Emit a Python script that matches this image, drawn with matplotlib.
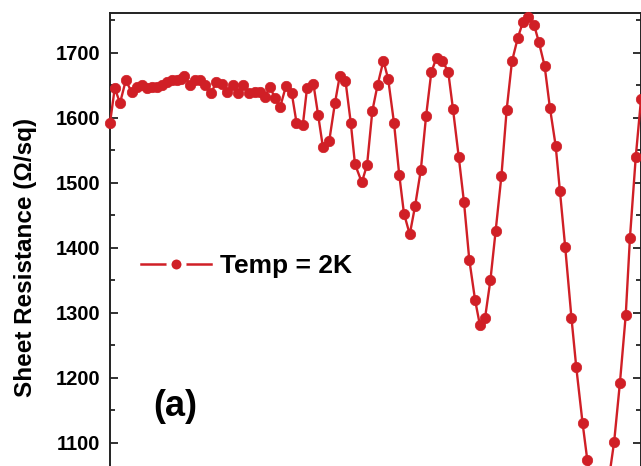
import matplotlib
matplotlib.use("Agg")
import matplotlib.pyplot as plt
from matplotlib.lines import Line2D
from matplotlib.ticker import MultipleLocator, NullLocator

plt.rcParams['font.family'] = ['Liberation Sans', 'DejaVu Sans']

field = [0.00, 0.09, 0.19, 0.30, 0.41, 0.51, 0.60, 0.70, 0.79, 0.89, 0.98, 1.08,
         1.17, 1.27, 1.34, 1.41, 1.52, 1.61, 1.71, 1.80, 1.92, 2.02, 2.12, 2.23,
         2.34, 2.43, 2.53, 2.64, 2.75, 2.85, 2.94, 3.04, 3.13, 3.23, 3.34, 3.45,
         3.54, 3.66, 3.74, 3.86, 3.95, 4.04, 4.16, 4.27, 4.36, 4.47, 4.57, 4.65,
         4.78, 4.88, 4.98, 5.08, 5.19, 5.28, 5.39, 5.49, 5.58, 5.69, 5.79, 5.90,
         6.00, 6.10, 6.20, 6.31, 6.42, 6.51, 6.62, 6.72, 6.82, 6.93, 7.02, 7.12,
         7.22, 7.32, 7.43, 7.53, 7.63, 7.74, 7.84, 7.94, 8.05, 8.14, 8.25, 8.35,
         8.46, 8.54, 8.64, 8.76, 8.85, 8.97, 9.06, 9.17, 9.27, 9.37, 9.47, 9.57,
         9.68, 9.79, 9.87, 9.98, 10.08]
resistance = [1592, 1646, 1623, 1658, 1640, 1648, 1651, 1646, 1648, 1648, 1651, 1656,
              1658, 1658, 1660, 1665, 1651, 1658, 1658, 1651, 1638, 1656, 1653, 1640,
              1651, 1638, 1651, 1638, 1640, 1640, 1633, 1648, 1630, 1617, 1649, 1638,
              1593, 1589, 1646, 1653, 1605, 1556, 1564, 1623, 1664, 1657, 1593, 1529,
              1501, 1528, 1611, 1651, 1688, 1660, 1593, 1513, 1453, 1421, 1464, 1520,
              1603, 1671, 1693, 1688, 1671, 1614, 1540, 1470, 1382, 1320, 1282, 1293,
              1350, 1426, 1511, 1613, 1687, 1723, 1748, 1755, 1743, 1717, 1680, 1616,
              1557, 1488, 1402, 1292, 1217, 1131, 1074, 1030, 1005, 1012, 1045, 1102,
              1193, 1297, 1416, 1540, 1629]

y_ticks = [1100, 1200, 1300, 1400, 1500, 1600, 1700]
series_label = "Temp = 2K"
panel_label = "(a)"
y_label = "Sheet Resistance (\u03a9/sq)"

RED = '#d01f26'
W, H = 641, 466
fig = plt.figure(figsize=(W / 100, H / 100), dpi=100)

# axes: left spine at x=110px, right at 640.5px, top at 13px; bottom below the figure
ax = fig.add_axes([110 / W, -42 / H, 530.5 / W, 495 / H])
ax.set_xlim(0, 10.07)
ax.set_ylim(1000, 1761.5)

ax.plot(field, resistance, color=RED, lw=1.7, marker='o', ms=7.5,
        mfc=RED, mec=RED, mew=0.5, clip_on=False, zorder=3)

for s in ['left', 'right', 'top']:
    ax.spines[s].set_color('#222222')
    ax.spines[s].set_linewidth(1.4)
ax.spines['bottom'].set_visible(False)

ax.xaxis.set_major_locator(NullLocator())
ax.set_yticks(y_ticks)
ax.yaxis.set_minor_locator(MultipleLocator(50))
ax.tick_params(axis='y', which='both', direction='in', right=True, left=True,
               colors='#222222', labelcolor='black')
ax.tick_params(axis='y', which='major', length=6, width=1.3, pad=7,
               labelsize=14.5)
ax.tick_params(axis='y', which='minor', length=3.5, width=1.3)
for lab in ax.get_yticklabels():
    lab.set_fontweight('bold')

ax.set_ylabel(y_label, fontsize=17.5, fontweight='bold')
ax.yaxis.set_label_coords(37 / W, 1 - 257 / H, transform=fig.transFigure)

handle = Line2D([], [], color=RED, lw=1.8, marker='o', ms=10.8, mfc=RED,
                mec='white', mew=3.6)
leg = fig.legend([handle], [series_label], loc='center left',
                 bbox_to_anchor=(141 / W, 1 - 266 / H), frameon=False,
                 borderpad=0, borderaxespad=0, handlelength=2.65,
                 handletextpad=0.34, prop={'size': 19, 'weight': 'bold'})

fig.text(153 / W, 1 - 406 / H, panel_label, fontsize=26, fontweight='bold',
         ha='left', va='center')

fig.savefig('out.png', dpi=100)
